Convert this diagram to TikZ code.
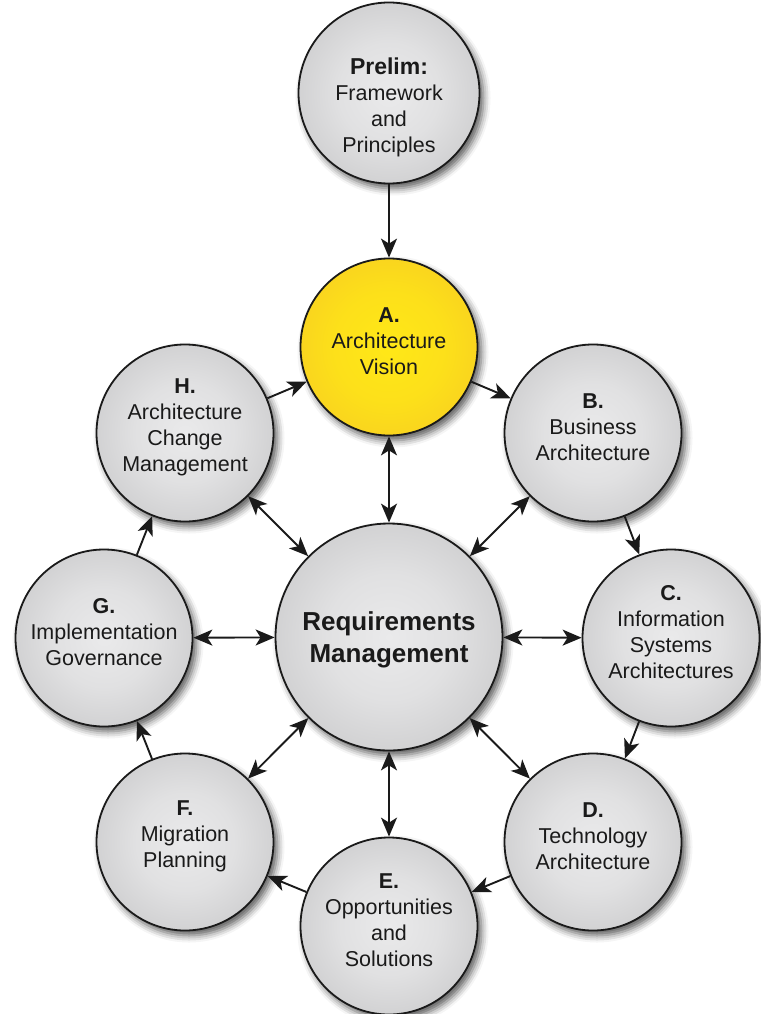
\documentclass[tikz,border=0pt]{standalone}
\usepackage{fontspec}
\setmainfont{Liberation Sans}
\usetikzlibrary{arrows.meta,shadows.blur}

\definecolor{ginner}{HTML}{EAEAEB}
\definecolor{gouter}{HTML}{9C9C9E}
\definecolor{yinner}{HTML}{FFE817}
\definecolor{youter}{HTML}{EEB02C}
\definecolor{ink}{HTML}{1A1A1A}

% spherical look of the phase discs
\pgfdeclareradialshading{phasegray}{\pgfpoint{0bp}{0bp}}%
  {color(0bp)=(ginner);color(14bp)=(ginner!88!gouter);color(36bp)=(ginner!50!gouter);color(50bp)=(gouter)}
\pgfdeclareradialshading{phaseyellow}{\pgfpoint{0bp}{0bp}}%
  {color(0bp)=(yinner);color(16bp)=(yinner!85!youter);color(38bp)=(yinner!40!youter);color(50bp)=(youter)}

\tikzset{
  phase/.style={circle, draw=ink, line width=1.8pt, minimum size=177pt, inner sep=0pt,
    shade, shading=phasegray,
    blur shadow={shadow xshift=4pt, shadow yshift=-5pt, shadow blur radius=7pt, shadow opacity=65}},
  visionphase/.style={phase, shading=phaseyellow},
  phasetext/.style={text=ink, align=center, inner sep=0pt,
    font=\fontsize{21.5}{26}\selectfont, yshift=6pt},
  tip/.tip={Stealth[length=19pt,width=16pt,inset=5pt]},
  link/.style={draw=ink, line width=1.9pt, -tip},
  dlink/.style={draw=ink, line width=1.9pt, tip-tip},
}

\begin{document}
\begin{tikzpicture}[x=1pt,y=-1pt]
\useasboundingbox (0,0) rectangle (760,1014);

% discs
\node[phase, minimum size=181pt] (P) at (389,93) {};
\node[visionphase] (A) at (389,347) {};
\node[phase] (B) at (593,433) {};
\node[phase] (C) at (671,638) {};
\node[phase] (D) at (593,842) {};
\node[phase] (E) at (389,926) {};
\node[phase] (F) at (185,842) {};
\node[phase] (G) at (104,638) {};
\node[phase] (H) at (185,433) {};
\node[phase, minimum size=227pt] (R) at (389,637) {};

% labels
\node[phasetext, yshift=-20pt] (tP) at (P.center) {\fontsize{23}{26}\selectfont\bfseries Prelim:\\Framework\\and\\Principles};
\node[phasetext] (tA) at (A.center) {\bfseries A.\\Architecture\\Vision};
\node[phasetext] (tB) at (B.center) {\bfseries B.\\Business\\Architecture};
\node[phasetext] (tC) at (C.center) {\bfseries C.\\Information\\Systems\\Architectures};
\node[phasetext] (tD) at (D.center) {\bfseries D.\\Technology\\Architecture};
\node[phasetext] (tE) at (E.center) {\bfseries E.\\Opportunities\\and\\Solutions};
\node[phasetext] (tF) at (F.center) {\bfseries F.\\Migration\\Planning};
\node[phasetext] (tG) at (G.center) {\bfseries G.\\Implementation\\Governance};
\node[phasetext] (tH) at (H.center) {\bfseries H.\\Architecture\\Change\\Management};
\node[phasetext, yshift=-9pt, font=\fontsize{26}{32}\selectfont\bfseries] (tR) at (R.center) {Requirements\\Management};

% cycle
\draw[link] (P) -- (A);
\draw[link] (A) -- (B);
\draw[link] (B) -- (C);
\draw[link] (C) -- (D);
\draw[link] (D) -- (E);
\draw[link] (E) -- (F);
\draw[link] (F) -- (G);
\draw[link] (G) -- (H);
\draw[link] (H) -- (A);

% requirements exchange
\foreach \p in {A,B,C,D,E,F,G,H}
  \draw[dlink] (R) -- (\p);
\end{tikzpicture}
\end{document}
